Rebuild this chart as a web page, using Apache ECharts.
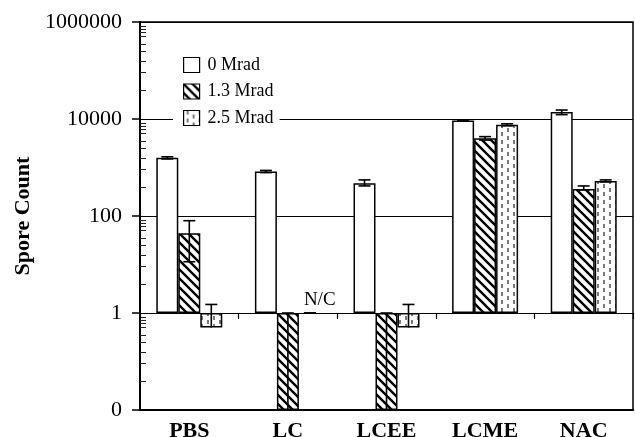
<!DOCTYPE html>
<html><head><meta charset="utf-8">
<script src="https://cdn.jsdelivr.net/npm/echarts@6/dist/echarts.min.js"></script>
<style>html,body{margin:0;padding:0;background:#fff}#c{width:635px;height:437px}</style>
</head><body><div id="c"></div>
<script>
// ---- data ----
const categories = ['PBS', 'LC', 'LCEE', 'LCME', 'NAC'];
const seriesNames = ['0 Mrad', '1.3 Mrad', '2.5 Mrad'];
// 0 values are plotted at the axis floor (labelled "0")
const mrad0   = [1580, 823, 474, 9350, 13900];
const mrad0Hi = [1660, 870, 555, 9600, 15300];
const mrad0Lo = [1500, 785, 417, 9100, 12300];
const mrad13   = [44, 0.01, 0.01, 4000, 362];
const mrad13Hi = [80, 1, 1, 4330, 417];
const mrad13Lo = [11.4, null, null, 3680, 344];
const mrad25   = [0.5, null, 0.5, 7600, 528];
const mrad25Hi = [1.5, 1, 1.5, 7950, 555];
const mrad25Lo = [null, 1, null, 7250, 505];
const mrad25Notes = [null, 'N/C', null, null, null];
const yMajorTicks = [0.01, 1, 100, 10000, 1000000];
const yMinorFactors = [0.81, 0.70, 0.61, 0.50, 0.355, 0.25, 0.155, 0.09, 0.04];

// ---- styling constants ----
const BAR_W = 22, CAP = 6;
const FONT = '"Liberation Serif", "Times New Roman", serif';

const yMinorTicks = [];
yMajorTicks.slice(1).forEach(u => yMinorFactors.forEach(m => yMinorTicks.push(u * m)));

function hatchPattern() {
  const s = 9;
  const c = document.createElement('canvas'); c.width = s; c.height = s;
  const g = c.getContext('2d');
  g.fillStyle = '#fff'; g.fillRect(0, 0, s, s);
  g.strokeStyle = '#000'; g.lineWidth = 2.4; g.beginPath();
  for (let k = -s; k <= s; k += s) { g.moveTo(k - 1, -1); g.lineTo(k + s + 1, s + 1); }
  g.stroke();
  return c;
}
function dashPattern() {
  const c = document.createElement('canvas'); c.width = 12; c.height = 8;
  const g = c.getContext('2d');
  g.fillStyle = '#fff'; g.fillRect(0, 0, 12, 8);
  g.fillStyle = '#7a7a7a';
  g.fillRect(3, 0, 2, 4); g.fillRect(9, 4, 2, 4);
  return c;
}

function errSeries(k, vals, hi, lo, notes) {
  const rows = categories.map((c, i) => ({ i, v: vals[i], hi: hi[i], lo: lo[i], note: notes ? notes[i] : null }));
  const offset = (k - 1) * BAR_W;
  return {
    type: 'custom', name: 'err' + k, z: 5, silent: true,
    data: rows.map(r => [r.i, r.hi]),
    encode: { x: 0, y: 1 },
    renderItem(params, api) {
      const d = rows[params.dataIndex];
      const pHi = api.coord([d.i, d.hi]);
      const cx = pHi[0] + offset, yh = pHi[1];
      const yl = api.coord([d.i, d.lo != null ? d.lo : d.v])[1];
      const st = { stroke: '#000', lineWidth: 1.6 };
      const ch = [
        { type: 'line', shape: { x1: cx, y1: yh, x2: cx, y2: yl }, style: st },
        { type: 'line', shape: { x1: cx - CAP, y1: yh, x2: cx + CAP, y2: yh }, style: st }
      ];
      if (d.lo != null) ch.push({ type: 'line', shape: { x1: cx - CAP, y1: yl, x2: cx + CAP, y2: yl }, style: st });
      if (d.note) ch.push({ type: 'text', x: cx - 6, y: yh - 3,
        style: { text: d.note, fill: '#000', font: '19px ' + FONT, textAlign: 'left', textVerticalAlign: 'bottom', align: 'left', verticalAlign: 'bottom' } });
      return { type: 'group', children: ch };
    }
  };
}

const chart = echarts.init(document.getElementById('c'), null, { renderer: 'canvas' });
const barBase = { type: 'bar', barWidth: BAR_W, barGap: '0%', z: 2 };
chart.setOption({
  animation: false,
  backgroundColor: '#fff',
  grid: { left: 140, right: 2, top: 22, bottom: 27, show: true, borderColor: '#000', borderWidth: 1.5, outerBoundsMode: 'none', containLabel: false },
  legend: {
    data: seriesNames, orient: 'vertical', left: 173, top: 51,
    padding: [5, 6, 5, 10], backgroundColor: '#fff', z: 10,
    itemWidth: 16, itemHeight: 15, itemGap: 8.5, icon: 'rect', selectedMode: false,
    itemStyle: { borderColor: '#000', borderWidth: 1.2 },
    textStyle: { fontFamily: FONT, fontSize: 18, color: '#000', lineHeight: 18, padding: [0, 0, 0, 3] }
  },
  xAxis: [
    { type: 'category', data: categories, position: 'bottom',
      axisLine: { show: true, lineStyle: { color: '#000', width: 2 } },
      axisTick: { show: false }, splitLine: { show: false },
      axisLabel: { color: '#000', fontFamily: FONT, fontSize: 22, fontWeight: 'bold', margin: 10 } },
    { type: 'category', data: categories, position: 'bottom', offset: -97,
      axisLine: { show: false }, axisLabel: { show: false }, splitLine: { show: false },
      axisTick: { show: true, length: 6, lineStyle: { color: '#000', width: 1.2 } } }
  ],
  yAxis: [
    { type: 'log', logBase: 100, min: 0.01, max: 1000000, position: 'left',
      name: 'Spore Count', nameLocation: 'middle', nameGap: 102,
      nameTextStyle: { color: '#000', fontFamily: FONT, fontSize: 22, fontWeight: 'bold' },
      axisLine: { show: true, lineStyle: { color: '#000', width: 2 } },
      axisTick: { show: true, length: 8, lineStyle: { color: '#000', width: 1.5 } },
      minorTick: { show: false },
      splitLine: { show: true, lineStyle: { color: '#000', width: 1.2 } },
      axisLabel: { color: '#000', fontFamily: FONT, fontSize: 22, margin: 18,
        formatter: v => (v < 0.5 ? '0' : String(Math.round(v))) } },
    { type: 'log', logBase: 100, min: 0.01, max: 1000000, position: 'left', offset: 0,
      axisLine: { show: false }, axisLabel: { show: false }, splitLine: { show: false },
      axisTick: { show: true, inside: true, length: 6, customValues: yMinorTicks, lineStyle: { color: '#222', width: 1 } } }
  ],
  series: [
    Object.assign({ name: seriesNames[0], data: mrad0, itemStyle: { color: '#fff', borderColor: '#000', borderWidth: 1.5 } }, barBase),
    Object.assign({ name: seriesNames[1], data: mrad13, itemStyle: { color: { image: hatchPattern(), repeat: 'repeat' }, borderColor: '#000', borderWidth: 1.5 } }, barBase),
    Object.assign({ name: seriesNames[2], data: mrad25.map(v => v == null ? '-' : v), itemStyle: { color: { image: dashPattern(), repeat: 'repeat' }, borderColor: '#000', borderWidth: 1.5 } }, barBase),
    errSeries(0, mrad0, mrad0Hi, mrad0Lo, null),
    errSeries(1, mrad13, mrad13Hi, mrad13Lo, null),
    errSeries(2, mrad25, mrad25Hi, mrad25Lo, mrad25Notes)
  ]
});
</script>
</body></html>
